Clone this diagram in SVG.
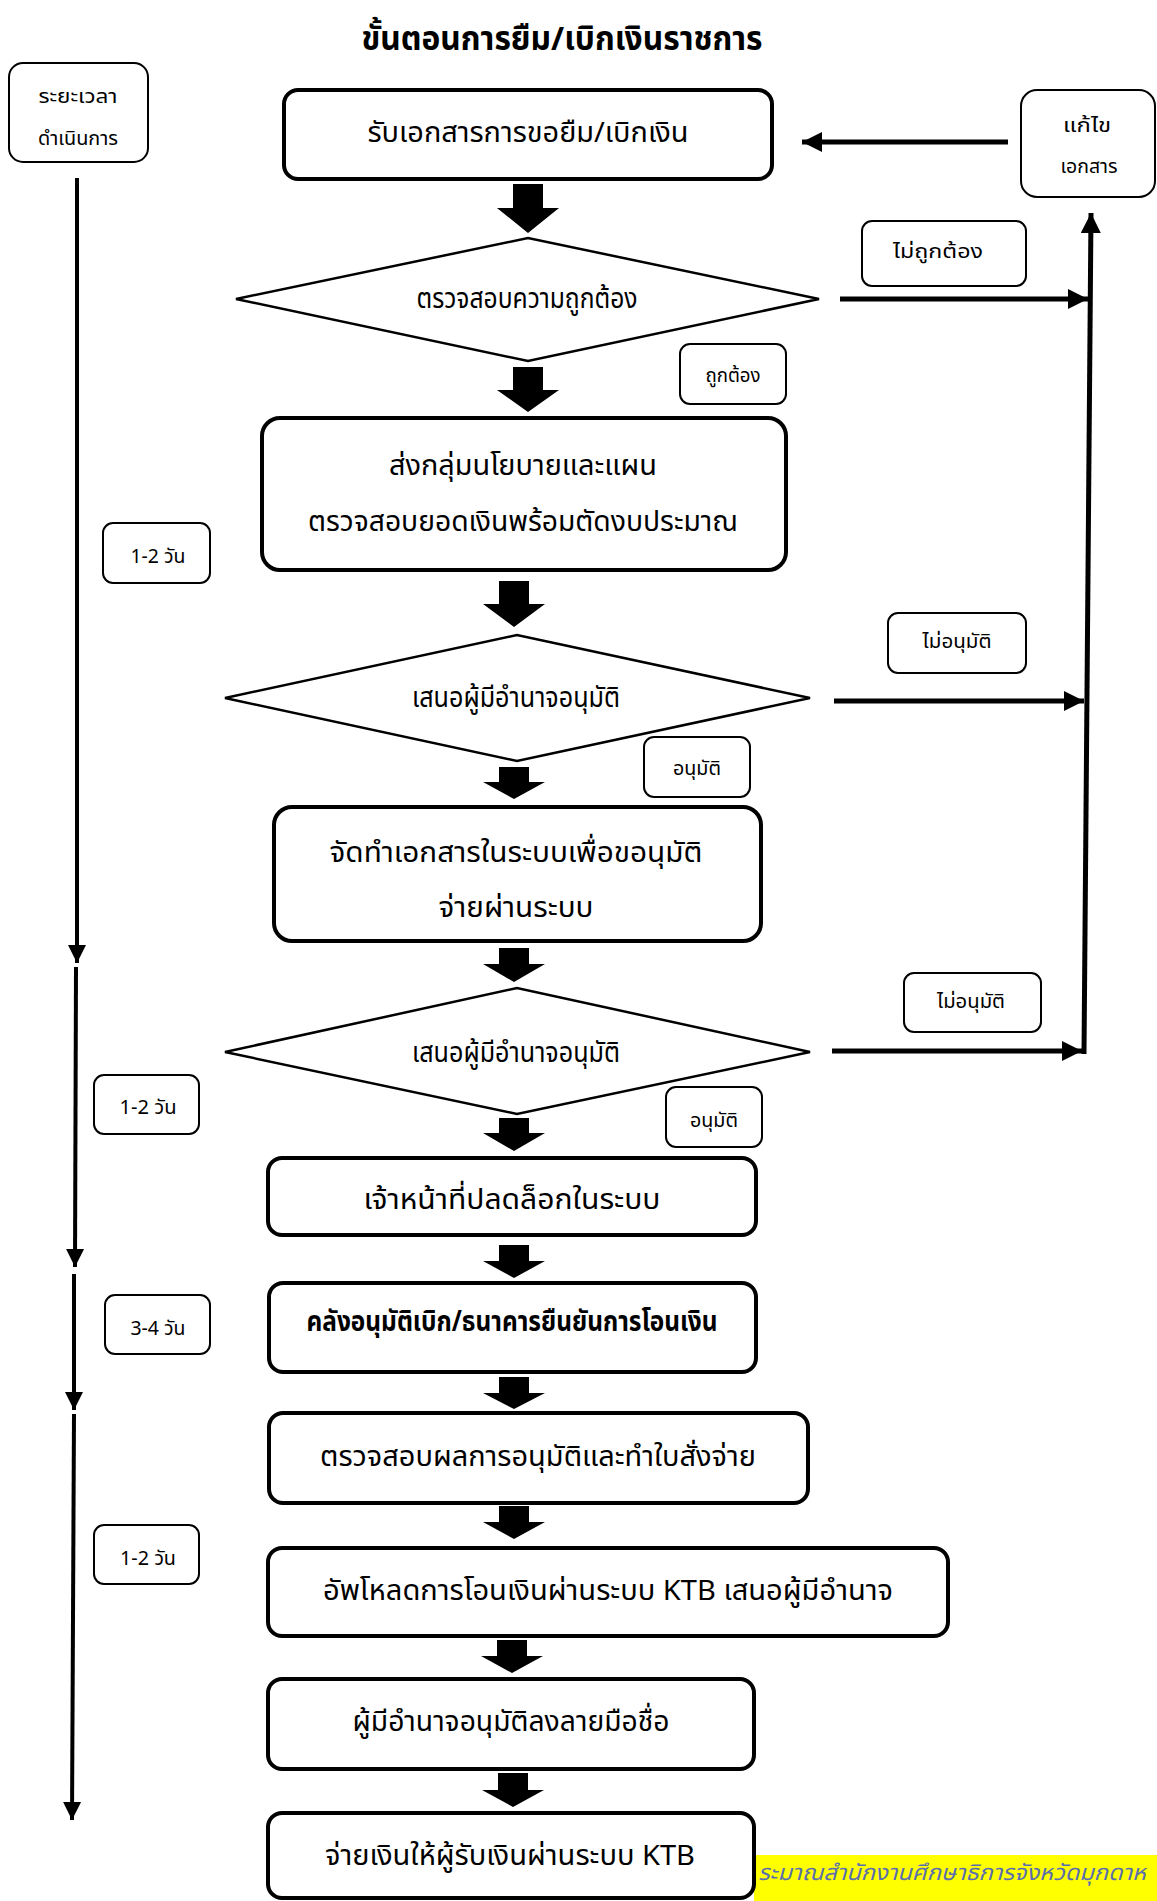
<svg xmlns="http://www.w3.org/2000/svg" width="1157" height="1901" viewBox="0 0 1157 1901">
<style>
text{font-family:"Noto Sans Thai","Noto Sans","DejaVu Sans",sans-serif;fill:#000;text-anchor:middle}
.t{font-size:28px}
.s{font-size:20px}
.title{font-size:33px;font-weight:bold}
.b{font-weight:bold}
.box{fill:#fff;stroke:#000;stroke-width:4}
.lab{fill:#fff;stroke:#000;stroke-width:2}
.dia{fill:#fff;stroke:#000;stroke-width:2.5}
.blk{fill:#000}
.ln{stroke:#000;stroke-width:5;fill:none}
.tl{stroke:#000;stroke-width:4;fill:none}
</style>
<defs>
<marker id="ah" viewBox="0 0 10 10" refX="10" refY="5" markerWidth="4" markerHeight="4" orient="auto" markerUnits="strokeWidth">
<path d="M0,0 L10,5 L0,10 Z" fill="#000"/>
</marker>
<marker id="ah2" viewBox="0 0 10 10" refX="10" refY="5" markerWidth="4.5" markerHeight="5" orient="auto" markerUnits="strokeWidth">
<path d="M0,0 L10,5 L0,10 Z" fill="#000"/>
</marker>
</defs>
<rect width="1157" height="1901" fill="#fff"/>
<text class="title" x="562" y="50" textLength="401" lengthAdjust="spacingAndGlyphs">ขั้นตอนการยืม/เบิกเงินราชการ</text>

<g id="connectors">
<path class="blk" d="M513,184H543V208H559L528,233L497,208H513Z"/>
<path class="blk" d="M513,367H543V390H559L528,412L497,390H513Z"/>
<path class="blk" d="M499,581H529V604H545L514,627L483,604H499Z"/>
<path class="blk" d="M499,767H529V782H545L514,799L483,782H499Z"/>
<path class="blk" d="M499,948H529V964H545L514,982L483,964H499Z"/>
<path class="blk" d="M499,1118H529V1133H545L514,1151L483,1133H499Z"/>
<path class="blk" d="M499,1245H529V1261H545L514,1278L483,1261H499Z"/>
<path class="blk" d="M499,1377H529V1393H545L514,1409L483,1393H499Z"/>
<path class="blk" d="M499,1506H529V1522H545L514,1539L483,1522H499Z"/>
<path class="blk" d="M497,1640H527V1656H543L512,1673L481,1656H497Z"/>
<path class="blk" d="M498,1773H528V1790H544L513,1807L482,1790H498Z"/>
<line class="ln" x1="1008" y1="142" x2="802" y2="142" marker-end="url(#ah)"/>
<line class="ln" x1="840" y1="299" x2="1088" y2="299" marker-end="url(#ah)"/>
<line class="ln" x1="834" y1="701" x2="1084" y2="701" marker-end="url(#ah)"/>
<line class="ln" x1="832" y1="1051" x2="1082" y2="1051" marker-end="url(#ah)"/>
<line class="ln" x1="1084" y1="1054" x2="1091" y2="213" marker-end="url(#ah)"/>
<line class="tl" x1="77" y1="178" x2="77" y2="963" marker-end="url(#ah2)"/>
<line class="tl" x1="76" y1="967" x2="75" y2="1267" marker-end="url(#ah2)"/>
<line class="tl" x1="74" y1="1274" x2="74" y2="1410" marker-end="url(#ah2)"/>
<line class="tl" x1="74" y1="1414" x2="72" y2="1820" marker-end="url(#ah2)"/>
</g>

<g id="duration-header"><rect class="lab" x="9" y="63" width="139" height="99" rx="14"/><text class="s" x="78" y="103" textLength="79" lengthAdjust="spacingAndGlyphs">ระยะเวลา</text><text class="s" x="78" y="145" textLength="80" lengthAdjust="spacingAndGlyphs">ดำเนินการ</text></g>
<g id="n1"><rect class="box" x="284" y="90" width="488" height="89" rx="14"/><text class="t" x="528" y="142" textLength="321" lengthAdjust="spacingAndGlyphs">รับเอกสารการขอยืม/เบิกเงิน</text></g>
<g id="fix"><rect class="lab" x="1021" y="90" width="134" height="107" rx="16"/><text class="s" x="1087" y="132" textLength="48" lengthAdjust="spacingAndGlyphs">แก้ไข</text><text class="s" x="1089" y="173" textLength="57" lengthAdjust="spacingAndGlyphs">เอกสาร</text></g>
<g id="d1"><polygon class="dia" points="236,299 528,238 819,299 528,361"/><text class="t" x="527" y="308" textLength="221" lengthAdjust="spacingAndGlyphs">ตรวจสอบความถูกต้อง</text></g>
<g id="l-wrong"><rect class="lab" x="862" y="221" width="164" height="65" rx="10"/><text class="s" x="938" y="258" textLength="90" lengthAdjust="spacingAndGlyphs">ไม่ถูกต้อง</text></g>
<g id="l-right"><rect class="lab" x="680" y="344" width="106" height="60" rx="10"/><text class="s" x="733" y="382" textLength="55" lengthAdjust="spacingAndGlyphs">ถูกต้อง</text></g>
<g id="n2"><rect class="box" x="262" y="418" width="524" height="152" rx="18"/><text class="t" x="523" y="475" textLength="268" lengthAdjust="spacingAndGlyphs">ส่งกลุ่มนโยบายและแผน</text><text class="t" x="523" y="531" textLength="430" lengthAdjust="spacingAndGlyphs">ตรวจสอบยอดเงินพร้อมตัดงบประมาณ</text></g>
<g id="t1"><rect class="lab" x="103" y="523" width="107" height="60" rx="10"/><text class="s" x="158" y="563" textLength="55" lengthAdjust="spacingAndGlyphs">1-2 วัน</text></g>
<g id="d2"><polygon class="dia" points="225,698 517,635 810,698 517,761"/><text class="t" x="516" y="707" textLength="208" lengthAdjust="spacingAndGlyphs">เสนอผู้มีอำนาจอนุมัติ</text></g>
<g id="l-no1"><rect class="lab" x="888" y="613" width="138" height="60" rx="10"/><text class="s" x="957" y="648" textLength="69" lengthAdjust="spacingAndGlyphs">ไม่อนุมัติ</text></g>
<g id="l-yes1"><rect class="lab" x="644" y="737" width="106" height="60" rx="10"/><text class="s" x="697" y="775" textLength="48" lengthAdjust="spacingAndGlyphs">อนุมัติ</text></g>
<g id="n3"><rect class="box" x="274" y="807" width="487" height="134" rx="18"/><text class="t" x="516" y="862" textLength="373" lengthAdjust="spacingAndGlyphs">จัดทำเอกสารในระบบเพื่อขอนุมัติ</text><text class="t" x="516" y="917" textLength="155" lengthAdjust="spacingAndGlyphs">จ่ายผ่านระบบ</text></g>
<g id="d3"><polygon class="dia" points="225,1052 517,988 810,1052 517,1114"/><text class="t" x="516" y="1062" textLength="208" lengthAdjust="spacingAndGlyphs">เสนอผู้มีอำนาจอนุมัติ</text></g>
<g id="l-no2"><rect class="lab" x="904" y="973" width="137" height="59" rx="10"/><text class="s" x="971" y="1008" textLength="68" lengthAdjust="spacingAndGlyphs">ไม่อนุมัติ</text></g>
<g id="t2"><rect class="lab" x="94" y="1075" width="105" height="59" rx="10"/><text class="s" x="148" y="1114" textLength="57" lengthAdjust="spacingAndGlyphs">1-2 วัน</text></g>
<g id="l-yes2"><rect class="lab" x="666" y="1087" width="96" height="60" rx="10"/><text class="s" x="714" y="1127" textLength="48" lengthAdjust="spacingAndGlyphs">อนุมัติ</text></g>
<g id="n4"><rect class="box" x="268" y="1158" width="488" height="77" rx="14"/><text class="t" x="512" y="1209" textLength="297" lengthAdjust="spacingAndGlyphs">เจ้าหน้าที่ปลดล็อกในระบบ</text></g>
<g id="n5"><rect class="box" x="269" y="1283" width="487" height="89" rx="14"/><text class="t b" x="512" y="1331" textLength="411" lengthAdjust="spacingAndGlyphs">คลังอนุมัติเบิก/ธนาคารยืนยันการโอนเงิน</text></g>
<g id="t3"><rect class="lab" x="105" y="1295" width="105" height="59" rx="10"/><text class="s" x="158" y="1335" textLength="55" lengthAdjust="spacingAndGlyphs">3-4 วัน</text></g>
<g id="n6"><rect class="box" x="269" y="1413" width="539" height="90" rx="14"/><text class="t" x="538" y="1466" textLength="436" lengthAdjust="spacingAndGlyphs">ตรวจสอบผลการอนุมัติและทำใบสั่งจ่าย</text></g>
<g id="t4"><rect class="lab" x="94" y="1525" width="105" height="59" rx="10"/><text class="s" x="148" y="1565" textLength="56" lengthAdjust="spacingAndGlyphs">1-2 วัน</text></g>
<g id="n7"><rect class="box" x="268" y="1548" width="680" height="88" rx="14"/><text class="t" x="608" y="1600" textLength="570" lengthAdjust="spacingAndGlyphs">อัพโหลดการโอนเงินผ่านระบบ KTB เสนอผู้มีอำนาจ</text></g>
<g id="n8"><rect class="box" x="268" y="1679" width="486" height="90" rx="14"/><text class="t" x="511" y="1731" textLength="317" lengthAdjust="spacingAndGlyphs">ผู้มีอำนาจอนุมัติลงลายมือชื่อ</text></g>
<g id="note"><rect x="754" y="1855" width="403" height="46" fill="#ffff00"/><text x="758" y="1880" textLength="388" lengthAdjust="spacingAndGlyphs" style="font-size:22px;font-style:italic;fill:#5b6fae;text-anchor:start">ระมาณสำนักงานศึกษาธิการจังหวัดมุกดาห</text></g>
<g id="n9"><rect class="box" x="268" y="1813" width="486" height="85" rx="14"/><text class="t" x="510" y="1865" textLength="370" lengthAdjust="spacingAndGlyphs">จ่ายเงินให้ผู้รับเงินผ่านระบบ KTB</text></g>
</svg>
